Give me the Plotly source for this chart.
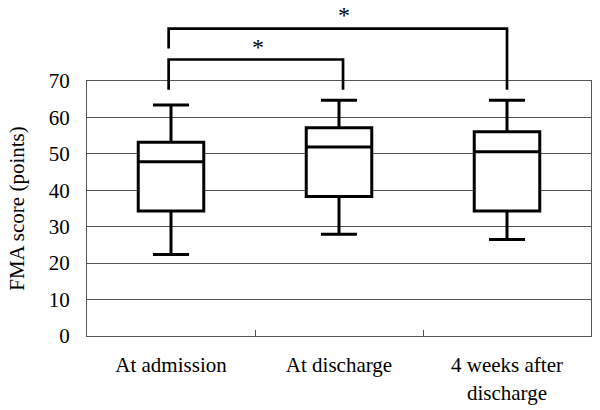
import plotly.graph_objects as go

categories = ["At admission", "At discharge", "4 weeks after<br>discharge"]
lower_whisker = [22.4, 27.9, 26.5]
q1_vals = [34.3, 38.3, 34.3]
median_vals = [47.8, 51.9, 50.6]
q3_vals = [53.2, 57.2, 56.1]
upper_whisker = [63.4, 64.7, 64.7]
y_ticks = [0, 10, 20, 30, 40, 50, 60, 70]

# significance brackets (data units): (left x, right x, top level, left bottom, right bottom)
brackets = [
    (-0.014, 1.024, 75.9, 67.6, 67.6),
    (-0.014, 2.0, 84.4, 78.9, 67.6),
]
stars = [(0.52, 79.4), (1.03, 88.0)]

YMAX = 70
FONT = "Liberation Serif"

fig = go.Figure()
fig.add_trace(go.Box(
    x=categories,
    q1=q1_vals, median=median_vals, q3=q3_vals,
    lowerfence=lower_whisker, upperfence=upper_whisker,
    line=dict(color="black", width=3),
    fillcolor="white",
    width=0.39,
    whiskerwidth=0.55,
    boxpoints=False,
    showlegend=False,
    hoverinfo="skip",
))

shapes = []
for xl, xr, top, lb, rb in brackets:
    shapes.append(dict(type="path", xref="x", yref="paper",
                       path=f"M {xl},{lb/YMAX} L {xl},{top/YMAX} L {xr},{top/YMAX} L {xr},{rb/YMAX}",
                       line=dict(color="black", width=2.7)))
fig.update_layout(shapes=shapes)

for sx, sy in stars:
    fig.add_annotation(x=sx, y=sy / YMAX, xref="x", yref="paper", text="*",
                       showarrow=False, yanchor="middle",
                       font=dict(family=FONT, size=24, color="black"))

fig.update_layout(
    width=600, height=410,
    margin=dict(l=87, r=9, t=81, b=74),
    paper_bgcolor="white", plot_bgcolor="white",
    font=dict(family=FONT, size=21, color="black"),
    xaxis=dict(
        type="category", range=[-0.5, 2.5], showline=True, mirror=True,
        linecolor="#555", linewidth=1,
        ticks="inside", tickson="boundaries", ticklen=6, tickcolor="#555",
        showgrid=False, ticklabelstandoff=10, automargin=False,
        tickfont=dict(family=FONT, size=21, color="black"),
    ),
    yaxis=dict(
        range=[0, YMAX], tickvals=y_ticks, showline=True, mirror=True,
        linecolor="#555", linewidth=1, showgrid=True, gridcolor="#555", gridwidth=1,
        zeroline=False, ticks="", ticklabelstandoff=12, automargin=False,
        tickfont=dict(family=FONT, size=21, color="black"),
        title=dict(text="FMA score (points)", font=dict(family=FONT, size=21, color="black"), standoff=18),
    ),
)

fig.write_html("out.html", config={"displayModeBar": False},
               post_script="document.body.style.margin='0';")
